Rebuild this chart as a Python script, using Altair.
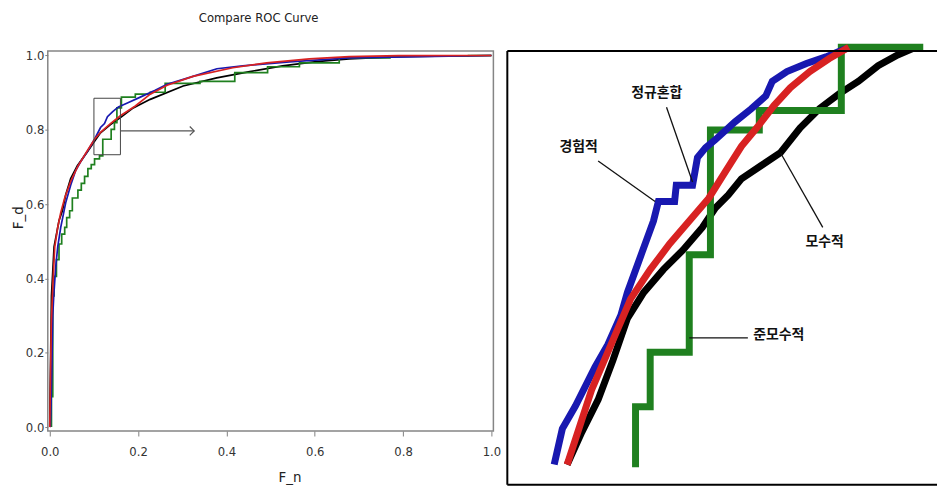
import altair as alt
import pandas as pd

# ---------------- text ----------------
TITLE = "Compare ROC Curve"
X_TITLE = "F_n"
Y_TITLE = "F_d"
TICKS = [0.0, 0.2, 0.4, 0.6, 0.8, 1.0]

NARROW = "Liberation Sans Narrow, DejaVu Sans Condensed, Liberation Sans, sans-serif"
KFONT = "Noto Sans CJK KR"

C_BLACK = "#000000"
C_GREEN = "#1f801f"
C_BLUE = "#1818b0"
C_RED = "#d82222"

# ---------------- left panel: ROC curves (F_n, F_d) ----------------
BLACK_FN = [0, 0.0007, 0.0038, 0.0097, 0.021, 0.0286, 0.036, 0.0473, 0.0624, 0.0849, 0.0998, 0.1149,
            0.1374, 0.16, 0.189, 0.2275, 0.302, 0.378, 0.4527, 0.527, 0.6036, 0.678, 0.79, 1.0]
BLACK_FD = [0, 0.0817, 0.353, 0.485, 0.556, 0.582, 0.6245, 0.669, 0.7036, 0.7404, 0.7668, 0.792,
            0.814, 0.8327, 0.859, 0.882, 0.918, 0.940, 0.9567, 0.972, 0.9837, 0.991, 0.997, 1.0]

RED_FN = [0, 0.0011, 0.0034, 0.0068, 0.0113, 0.018, 0.0248, 0.0338, 0.0473, 0.0631, 0.0833, 0.1014,
          0.1149, 0.1374, 0.1599, 0.1937, 0.2275, 0.2658, 0.3243, 0.4144, 0.491, 0.5878, 0.678, 0.79, 1.0]
RED_FD = [0, 0.0896, 0.274, 0.3794, 0.4848, 0.5375, 0.5771, 0.6166, 0.6614, 0.7009, 0.7404, 0.7747,
          0.7931, 0.8169, 0.8379, 0.8643, 0.8960, 0.9200, 0.9440, 0.9671, 0.9802, 0.9910, 0.9970, 0.9995, 1.0]

BLUE_FN = [0.0011, 0.0023, 0.0045, 0.0068, 0.009, 0.0135, 0.018, 0.0248, 0.0293, 0.036, 0.0473, 0.0586,
           0.0698, 0.0856, 0.1014, 0.1149, 0.1239, 0.1306, 0.1419, 0.1554, 0.1757, 0.205, 0.2387, 0.2658,
           0.3243, 0.3784, 0.4369, 0.5428, 0.678, 1.0]
BLUE_FD = [0, 0.0369, 0.1423, 0.3004, 0.3531, 0.4321, 0.4848, 0.5375, 0.5639, 0.6034, 0.6509, 0.6904,
           0.7141, 0.7431, 0.7747, 0.8063, 0.8169, 0.8353, 0.8485, 0.8617, 0.8722, 0.888, 0.9065, 0.9223,
           0.9440, 0.9644, 0.9723, 0.9829, 0.9934, 1.0]

# green is a staircase (value after each jump)
GREEN_FN = [0.0038, 0.0038, 0.0068, 0.0097, 0.0151, 0.0209, 0.027, 0.0338, 0.0383, 0.045, 0.0511, 0.0637,
            0.0714, 0.0788, 0.0863, 0.0939, 0.1014, 0.1126, 0.12, 0.139, 0.1464, 0.152, 0.1622, 0.1937,
            0.2275, 0.2613, 0.3401, 0.4189, 0.4932, 0.5653, 0.6554, 0.7703, 0.9482, 1.0]
GREEN_FD = [0, 0.0817, 0.3531, 0.4058, 0.4506, 0.4928, 0.5191, 0.5375, 0.5639, 0.5823, 0.6166, 0.6377,
            0.6561, 0.6746, 0.6957, 0.7062, 0.722, 0.7299, 0.7747, 0.8011, 0.8195, 0.859, 0.888, 0.8959,
            0.9012, 0.9249, 0.9302, 0.9539, 0.9697, 0.9802, 0.9934, 0.9987, 1.0, 1.0]

# zoom box and arrow
RECT_FN = [0.10, 0.16]
RECT_FD = [0.733, 0.885]
ARROW_FN = [0.16, 0.327]
ARROW_FD = 0.797

# ---------------- right panel: magnified view (relative units 0-100) ----------------
IN_BLACK_U = [13.93, 17.34, 21.14, 24.55, 27.95, 31.75, 36.30, 40.84, 45.39, 48.41, 51.43, 54.48, 59.02,
              63.57, 68.11, 72.66, 77.20, 81.75, 86.30, 90.84, 94.61]
IN_BLACK_V = [4.65, 12.13, 19.62, 28.61, 38.36, 44.34, 49.60, 54.09, 59.33, 63.82, 66.81, 70.56, 73.55,
              76.56, 82.25, 86.74, 90.11, 93.03, 96.63, 99.10, 100.67]

IN_RED_U = [13.93, 19.61, 24.16, 28.70, 33.25, 37.80, 42.34, 46.89, 50.68, 54.48, 58.25, 62.05, 65.84,
            70.39, 74.93, 79.48]
IN_RED_V = [4.65, 21.87, 32.36, 42.85, 49.60, 55.57, 60.83, 66.07, 72.07, 78.04, 82.54, 87.42, 91.53,
            95.28, 98.27, 100.90]

IN_BLUE_U = [10.91, 12.80, 15.84, 20.39, 23.41, 26.43, 27.95, 30.98, 34.02, 35.16, 38.93, 39.32, 43.11,
             44.25, 46.14, 48.41, 52.95, 56.75, 60.16, 61.66, 65.07, 69.61, 74.16, 78.70]
IN_BLUE_V = [4.65, 12.88, 18.13, 27.12, 32.36, 39.10, 44.34, 52.58, 60.83, 65.33, 65.33, 69.06, 69.06,
             75.44, 77.69, 79.55, 83.66, 86.67, 89.66, 93.03, 95.28, 97.15, 98.65, 100.52]

IN_GREEN_U = [29.84, 29.84, 33.25, 42.34, 47.27, 58.64, 77.73, 96.8]
IN_GREEN_V = [4.04, 17.98, 30.56, 53.03, 81.80, 86.29, 100.9, 100.9]

LABELS = ["정규혼합", "경험적", "모수적", "준모수적"]
LABEL_U = [34.77, 16.59, 73.86, 63.18]
LABEL_V = [90.34, 77.98, 55.96, 34.61]
LEADER_U = [37.05, 21.14, 73.41, 42.34]
LEADER_V = [87.03, 74.67, 59.33, 33.86]
LEADER_U2 = [43.11, 34.39, 63.57, 55.98]
LEADER_V2 = [69.82, 65.33, 76.56, 33.86]

# ---------------- sizes ----------------
LW, LH = 448, 382
RW, RH = 432, 436


def cdf(xs, ys):
    return pd.DataFrame({"x": xs, "y": ys, "i": list(range(len(xs)))})


# ----- left chart -----
xsc = alt.Scale(domain=[-0.0045, 1.0045], nice=False, zero=False)
ysc = alt.Scale(domain=[-0.0105, 1.012], nice=False, zero=False)

xaxis = alt.Axis(values=TICKS, format=".1f", title=X_TITLE, grid=False, domain=False,
                 tickSize=5, tickColor="#808080", labelFont=NARROW, labelFontSize=13,
                 labelColor="#333333", labelPadding=10, labelFlush=False,
                 titleFont=NARROW, titleFontSize=15, titleFontWeight="normal", titleColor="#222222",
                 titleX=243, titleY=46, titleBaseline="middle", titleAlign="center")
yaxis = alt.Axis(values=TICKS, format=".1f", title=Y_TITLE, grid=False, domain=False,
                 tickSize=3, tickColor="#808080", labelFont=NARROW, labelFontSize=13,
                 labelColor="#333333", labelPadding=1, labelFlush=False,
                 titleFont=NARROW, titleFontSize=15, titleFontWeight="normal", titleColor="#222222",
                 titleX=-30, titleY=167, titleAngle=-90, titleBaseline="middle", titleAlign="center")


def left_line(xs, ys, color, step=False):
    return alt.Chart(cdf(xs, ys)).mark_line(
        color=color, strokeWidth=1.7, interpolate="step-after" if step else "linear"
    ).encode(
        x=alt.X("x:Q", scale=xsc, axis=xaxis),
        y=alt.Y("y:Q", scale=ysc, axis=yaxis),
        order="i:Q",
    )


rect_df = pd.DataFrame({"x": [RECT_FN[0]], "x2": [RECT_FN[1]], "y": [RECT_FD[0]], "y2": [RECT_FD[1]]})
rect = alt.Chart(rect_df).mark_rect(fill="transparent", stroke="#444444", strokeWidth=1).encode(
    x=alt.X("x:Q", scale=xsc, axis=xaxis), x2="x2", y=alt.Y("y:Q", scale=ysc, axis=yaxis), y2="y2")

arrow_df = pd.DataFrame({"x": [ARROW_FN[0]], "x2": [ARROW_FN[1]], "y": [ARROW_FD]})
arrow = alt.Chart(arrow_df).mark_rule(color="#555555", strokeWidth=1.2).encode(
    x=alt.X("x:Q", scale=xsc, axis=xaxis), x2="x2", y=alt.Y("y:Q", scale=ysc, axis=yaxis))
head_df = pd.DataFrame({"x": [ARROW_FN[1]], "y": [ARROW_FD]})
head = alt.Chart(head_df).mark_point(shape="M-1,-1L0,0L-1,1", size=80, filled=False,
                                     color="#555555", strokeWidth=1.2, opacity=1).encode(
    x=alt.X("x:Q", scale=xsc, axis=xaxis), y=alt.Y("y:Q", scale=ysc, axis=yaxis))

left = alt.layer(
    left_line(BLACK_FN, BLACK_FD, C_BLACK),
    left_line(GREEN_FN, GREEN_FD, C_GREEN, step=True),
    left_line(BLUE_FN, BLUE_FD, C_BLUE),
    left_line(RED_FN, RED_FD, C_RED),
    rect, arrow, head,
).properties(
    width=LW, height=LH,
    title=alt.TitleParams(TITLE, font=NARROW, fontSize=13, fontWeight="normal", color="#222222",
                          anchor="middle", dx=-12, offset=25),
    view=alt.ViewBackground(stroke="#858585", strokeWidth=1.5),
)

# ----- right chart -----
usc = alt.Scale(domain=[0, 100], nice=False, zero=False)
vsc = alt.Scale(domain=[0, 100], nice=False, zero=False)


def right_line(xs, ys, color, step=False):
    return alt.Chart(cdf(xs, ys)).mark_line(
        color=color, strokeWidth=7, interpolate="step-after" if step else "linear",
        strokeJoin="miter", strokeCap="butt"
    ).encode(
        x=alt.X("x:Q", scale=usc, axis=None),
        y=alt.Y("y:Q", scale=vsc, axis=None),
        order="i:Q",
    )


frame_df = pd.DataFrame({"a": [0]})
frame_left = alt.Chart(frame_df).mark_rule(color="#000000", strokeWidth=2).encode(
    x=alt.value(0), y=alt.value(0), y2=alt.value(RH))
frame_top = alt.Chart(frame_df).mark_rule(color="#000000", strokeWidth=2).encode(
    x=alt.value(0), x2=alt.value(RW), y=alt.value(0))
frame_bottom = alt.Chart(frame_df).mark_rule(color="#000000", strokeWidth=2).encode(
    x=alt.value(0), x2=alt.value(RW), y=alt.value(RH))

lead_df = pd.DataFrame({"x": LEADER_U, "y": LEADER_V, "x2": LEADER_U2, "y2": LEADER_V2})
leaders = alt.Chart(lead_df).mark_rule(color="#111111", strokeWidth=1.3).encode(
    x=alt.X("x:Q", scale=usc, axis=None), y=alt.Y("y:Q", scale=vsc, axis=None), x2="x2", y2="y2")

lab_df = pd.DataFrame({"x": LABEL_U, "y": LABEL_V, "t": LABELS})
labels = alt.Chart(lab_df).mark_text(font=KFONT, fontSize=14, fontWeight="bold", color="#111111",
                                     align="center", baseline="middle").encode(
    x=alt.X("x:Q", scale=usc, axis=None), y=alt.Y("y:Q", scale=vsc, axis=None), text="t:N")

right = alt.layer(
    right_line(IN_BLACK_U, IN_BLACK_V, C_BLACK),
    right_line(IN_GREEN_U, IN_GREEN_V, C_GREEN, step=True),
    right_line(IN_BLUE_U, IN_BLUE_V, C_BLUE),
    right_line(IN_RED_U, IN_RED_V, C_RED),
    leaders, labels, frame_left, frame_top, frame_bottom,
).properties(
    width=RW, height=RH,
    view=alt.ViewBackground(stroke="transparent"),
)

chart = alt.hconcat(left, right, spacing=3).properties(
    padding={"left": 2, "top": 1, "right": 0, "bottom": 0},
    background="white",
)

chart.save("out.html", embed_options={"renderer": "svg", "actions": False})
